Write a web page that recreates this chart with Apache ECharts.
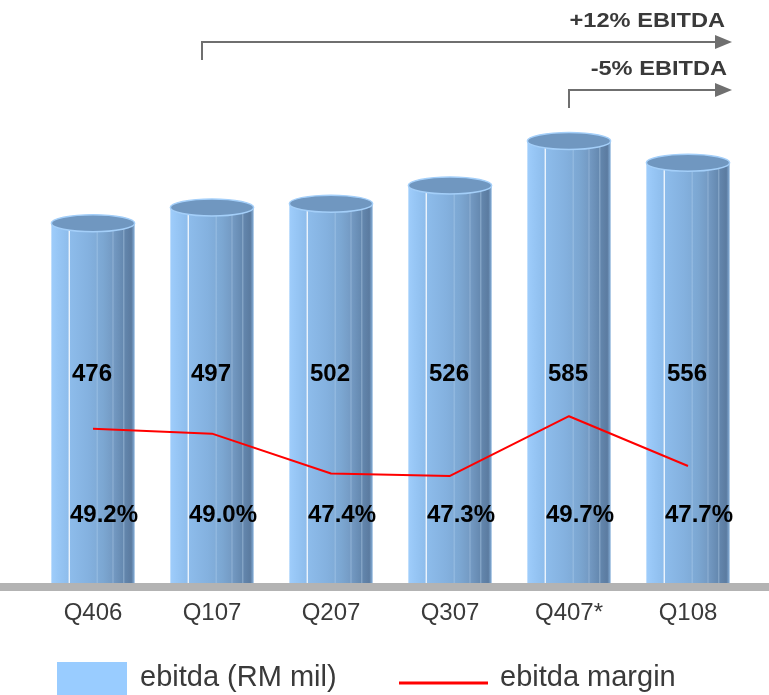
<!DOCTYPE html>
<html>
<head>
<meta charset="utf-8">
<script src="https://cdn.jsdelivr.net/npm/echarts@6/dist/echarts.min.js"></script>
<style>
  html, body { margin: 0; padding: 0; background: #ffffff; }
  #chart { width: 769px; height: 695px; }
</style>
</head>
<body>
<div id="chart"></div>
<script>
// Quarterly EBITDA (RM mil) and EBITDA margin (%)
const quarters = ['Q406', 'Q107', 'Q207', 'Q307', 'Q407*', 'Q108'];
const ebitda = [476, 497, 502, 526, 585, 556];
const margin = [49.2, 49.0, 47.4, 47.3, 49.7, 47.7];
const growthNotes = ['+12% EBITDA', '-5% EBITDA'];
const legendNames = ['ebitda (RM mil)', 'ebitda margin'];

const FONT = '"Liberation Sans", Arial, Helvetica, sans-serif';
const chart = echarts.init(document.getElementById('chart'), null, { renderer: 'canvas' });

// Shaded side of each cylinder, lit from the left
function bodyFill() {
  return new echarts.graphic.LinearGradient(0, 0, 1, 0, [
    { offset: 0.00, color: '#9fcdfb' },
    { offset: 0.07, color: '#98c7f6' },
    { offset: 0.20, color: '#8ebdec' },
    { offset: 0.45, color: '#84b1df' },
    { offset: 0.62, color: '#7ca7d2' },
    { offset: 0.75, color: '#7399c2' },
    { offset: 0.86, color: '#6589b0' },
    { offset: 0.96, color: '#5b7ba0' },
    { offset: 1.00, color: '#86b0da' }
  ]);
}

function renderCylinder(params, api) {
  const idx = api.value(0);
  const val = api.value(1);
  const pct = api.value(2);
  const top = api.coord([idx, val]);
  const base = api.coord([idx, 0]);
  const w = api.size([1, 0])[0] * 0.70;
  const cx = top[0];
  const x0 = cx - w / 2;
  const ry = 8.5;
  const vline = (f, color, lw) => ({
    type: 'line',
    shape: { x1: x0 + w * f, y1: top[1] + ry * 0.6, x2: x0 + w * f, y2: base[1] },
    style: { stroke: color, lineWidth: lw }
  });
  return {
    type: 'group',
    children: [
      { type: 'rect', shape: { x: x0, y: top[1], width: w, height: base[1] - top[1] + 4 },
        style: { fill: bodyFill() } },
      vline(0.215, 'rgba(255,255,255,0.9)', 1.3),
      vline(0.55, 'rgba(200,225,250,0.35)', 1),
      vline(0.74, 'rgba(200,225,250,0.35)', 1),
      vline(0.87, 'rgba(200,225,250,0.45)', 1),
      { type: 'ellipse', shape: { cx: cx, cy: top[1], rx: w / 2, ry: ry },
        style: { fill: '#7097c0', stroke: '#a4cff9', lineWidth: 1.5 } },
      { type: 'text', x: cx - 1, y: base[1] - 209,
        style: { text: String(val), align: 'center', verticalAlign: 'middle',
                 font: 'bold 24px ' + FONT, fill: '#000000' } },
      { type: 'text', x: cx + 11, y: base[1] - 68,
        style: { text: pct.toFixed(1) + '%', align: 'center', verticalAlign: 'middle',
                 font: 'bold 24px ' + FONT, fill: '#000000' } }
    ]
  };
}

const cylinderData = quarters.map((q, i) => [i, ebitda[i], margin[i]]);

const option = {
  backgroundColor: '#ffffff',
  animation: false,
  grid: { left: 33.5, right: 21.5, top: 54, bottom: 112, containLabel: false },
  xAxis: {
    type: 'category',
    data: quarters,
    axisLine: { show: false },
    axisTick: { show: false },
    splitLine: { show: false },
    axisLabel: { margin: 18, fontSize: 24, fontFamily: FONT, color: '#3a3a3a' }
  },
  yAxis: [
    { type: 'value', min: 0, max: 700, show: false, splitLine: { show: false } },
    { type: 'value', min: 43, max: 64.25, show: false, splitLine: { show: false } }
  ],
  series: [
    {
      name: legendNames[0],
      type: 'custom',
      renderItem: renderCylinder,
      data: cylinderData,
      encode: { x: 0, y: 1 },
      z: 2
    },
    {
      name: legendNames[1],
      type: 'line',
      yAxisIndex: 1,
      data: margin,
      symbol: 'none',
      lineStyle: { color: '#ff0000', width: 2 },
      z: 5
    }
  ],
  graphic: [
    // floor under the cylinders
    { type: 'rect', z: 10, shape: { x: 0, y: 583, width: 769, height: 8 }, style: { fill: '#b3b3b3' } },
    // growth arrows
    { type: 'polyline', z: 10, shape: { points: [[202, 60], [202, 42], [718, 42]] },
      style: { stroke: '#6f6f6f', lineWidth: 2, fill: null } },
    { type: 'polygon', z: 10, shape: { points: [[715, 35], [732, 42], [715, 49]] },
      style: { fill: '#6f6f6f' } },
    { type: 'polyline', z: 10, shape: { points: [[569, 108], [569, 90], [718, 90]] },
      style: { stroke: '#6f6f6f', lineWidth: 2, fill: null } },
    { type: 'polygon', z: 10, shape: { points: [[715, 83], [732, 90], [715, 97]] },
      style: { fill: '#6f6f6f' } },
    { type: 'text', z: 10, x: 725, y: 21.5, scaleX: 1.18,
      style: { text: growthNotes[0], align: 'right', verticalAlign: 'middle',
               font: 'bold 20px ' + FONT, fill: '#3a3a3a' } },
    { type: 'text', z: 10, x: 727, y: 69, scaleX: 1.18,
      style: { text: growthNotes[1], align: 'right', verticalAlign: 'middle',
               font: 'bold 20px ' + FONT, fill: '#3a3a3a' } },
    // legend
    { type: 'rect', z: 10, shape: { x: 57, y: 662, width: 70, height: 40 }, style: { fill: '#99ccff' } },
    { type: 'text', z: 10, x: 140, y: 678,
      style: { text: legendNames[0], align: 'left', verticalAlign: 'middle',
               font: '29px ' + FONT, fill: '#3a3a3a' } },
    { type: 'line', z: 10, shape: { x1: 399, y1: 683, x2: 488, y2: 683 },
      style: { stroke: '#ff0000', lineWidth: 3 } },
    { type: 'text', z: 10, x: 500, y: 678,
      style: { text: legendNames[1], align: 'left', verticalAlign: 'middle',
               font: '29px ' + FONT, fill: '#3a3a3a' } }
  ]
};

chart.setOption(option);
</script>
</body>
</html>
